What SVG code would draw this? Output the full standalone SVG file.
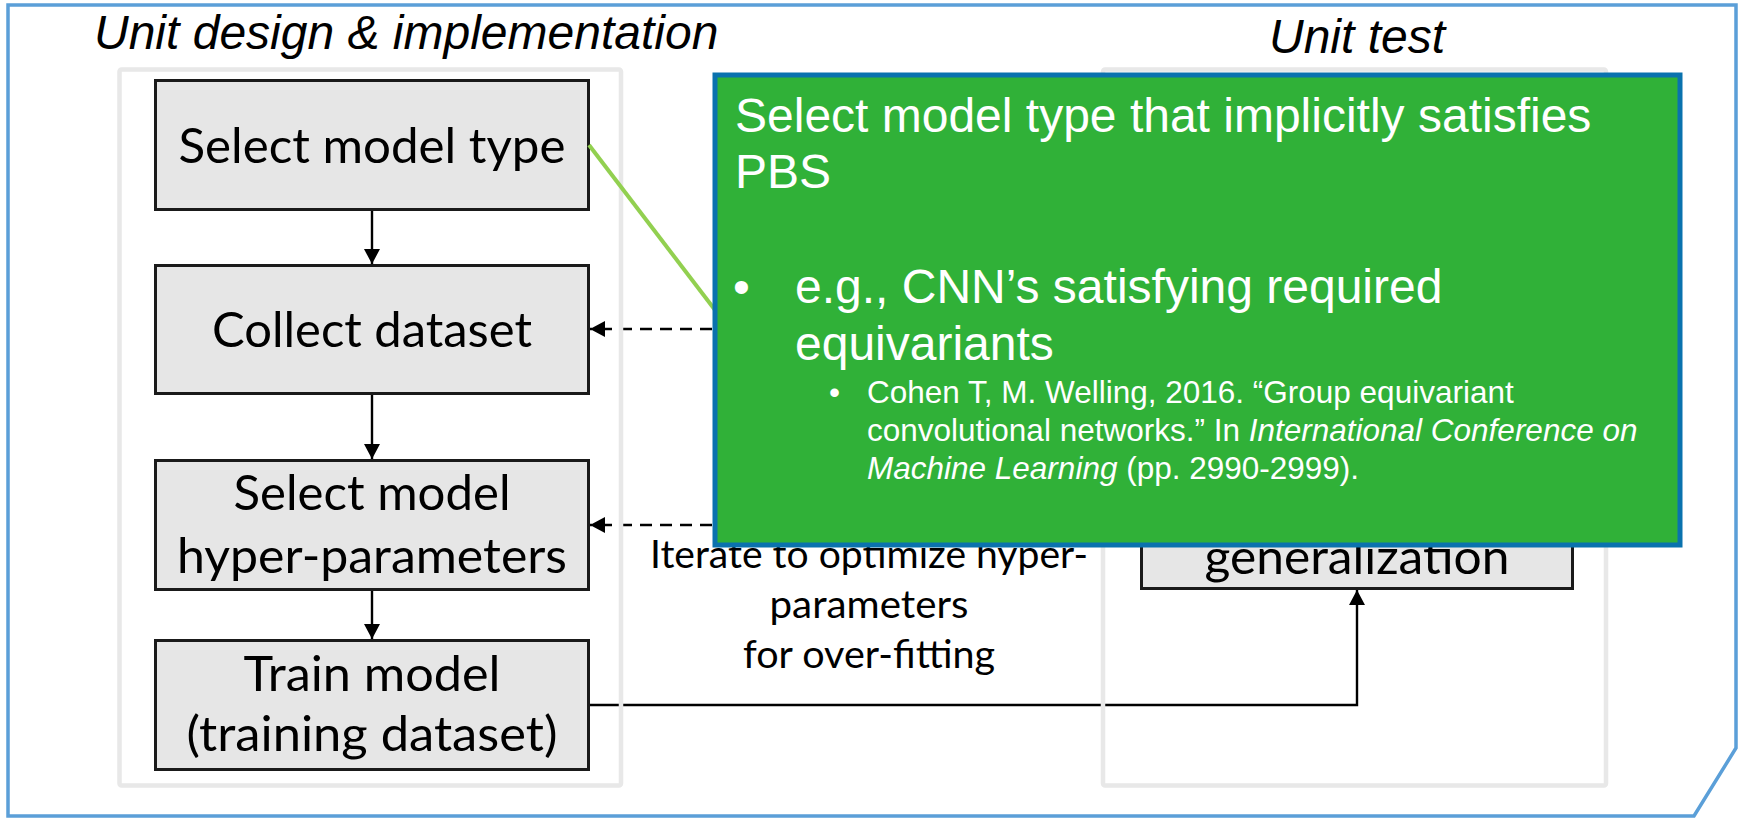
<svg xmlns="http://www.w3.org/2000/svg" width="1741" height="818" viewBox="0 0 1741 818">
  <style>
    .frame { fill: none; stroke: #5B9FD8; stroke-width: 3.5; }
    .lane { fill: none; stroke: #E8E8E8; stroke-width: 4.5; }
    .box { fill: #E6E6E6; stroke: #1A1A1A; stroke-width: 3; }
    .lbl { font-family: Lato, "Open Sans", sans-serif; font-size: 48px; fill: #000; text-anchor: middle; }
    .note { font-family: Lato, "Open Sans", sans-serif; font-size: 38px; fill: #000; text-anchor: middle; }
    .head { font-family: "Liberation Sans", Arial, sans-serif; font-style: italic; font-size: 48px; fill: #000; }
    .flow { fill: none; stroke: #000; stroke-width: 2.4; }
    .dash { stroke-dasharray: 12 8; }
    .link { fill: none; stroke: #92D050; stroke-width: 4; }
    .callout { fill: #30B138; stroke: #0A72AE; stroke-width: 5; }
    .ct { font-family: "Liberation Sans", Arial, sans-serif; font-size: 48px; fill: #fff; }
    .ref { font-size: 31.5px; }
  </style>
  <defs>
    <marker id="arrow" viewBox="0 0 15 16" refX="15" refY="8" markerWidth="15" markerHeight="16" markerUnits="userSpaceOnUse" orient="auto">
      <path d="M0,0 L15,8 L0,16 Z" fill="#000"/>
    </marker>
  </defs>

  <rect width="1741" height="818" fill="#fff"/>

  <!-- outer frame with clipped lower-right corner -->
  <polygon class="frame" points="8,5 1736,5 1736,748 1694,816 8,816"/>

  <!-- lane headings -->
  <text class="head" x="94" y="49">Unit design &amp; implementation</text>
  <text class="head" x="1269" y="53">Unit test</text>

  <!-- connectors -->
  <g id="connectors">
    <path class="flow" d="M372,211 V264" marker-end="url(#arrow)"/>
    <path class="flow" d="M372,395 V459" marker-end="url(#arrow)"/>
    <path class="flow" d="M372,591 V639" marker-end="url(#arrow)"/>
    <path class="flow dash" d="M712,329 H590" marker-end="url(#arrow)"/>
    <path class="flow dash" d="M712,525 H590" marker-end="url(#arrow)"/>
    <path class="flow" d="M590,705 H1357 V590" marker-end="url(#arrow)"/>
  </g>

  <!-- swimlane containers -->
  <g id="lane-design">
    <rect class="lane" x="119.5" y="69.5" width="501.5" height="716" rx="2"/>
  </g>
  <g id="lane-test">
    <rect class="lane" x="1103" y="69.5" width="503" height="716" rx="2"/>
  </g>

  <!-- process steps -->
  <g id="select-model-type">
    <rect class="box" x="155.5" y="80.5" width="433" height="129"/>
    <text class="lbl" x="372" y="163" textLength="387" lengthAdjust="spacingAndGlyphs">Select model type</text>
  </g>
  <g id="collect-dataset">
    <rect class="box" x="155.5" y="265.5" width="433" height="128"/>
    <text class="lbl" x="372" y="347" textLength="320" lengthAdjust="spacingAndGlyphs">Collect dataset</text>
  </g>
  <g id="select-hyperparameters">
    <rect class="box" x="155.5" y="460.5" width="433" height="129"/>
    <text class="lbl" x="372" y="510" textLength="277" lengthAdjust="spacingAndGlyphs">Select model</text>
    <text class="lbl" x="372" y="573" textLength="390" lengthAdjust="spacingAndGlyphs">hyper-parameters</text>
  </g>
  <g id="train-model">
    <rect class="box" x="155.5" y="640.5" width="433" height="129"/>
    <text class="lbl" x="372" y="691" textLength="257" lengthAdjust="spacingAndGlyphs">Train model</text>
    <text class="lbl" x="372" y="751" textLength="371" lengthAdjust="spacingAndGlyphs">(training dataset)</text>
  </g>
  <g id="generalization">
    <rect class="box" x="1141.5" y="460.5" width="431" height="128"/>
    <text class="lbl" x="1357" y="574" textLength="305" lengthAdjust="spacingAndGlyphs">generalization</text>
  </g>

  <!-- loop annotation -->
  <g id="iterate-note">
    <text class="note" x="869" y="568" textLength="438" lengthAdjust="spacingAndGlyphs">Iterate to optimize hyper-</text>
    <text class="note" x="869" y="618" textLength="199" lengthAdjust="spacingAndGlyphs">parameters</text>
    <text class="note" x="869" y="668" textLength="252" lengthAdjust="spacingAndGlyphs">for over-fitting</text>
  </g>

  <!-- callout -->
  <g id="callout">
    <line class="link" x1="589" y1="145" x2="715" y2="310"/>
    <rect class="callout" x="715" y="75" width="965" height="470"/>
    <text class="ct" x="735" y="132">Select model type that implicitly satisfies</text>
    <text class="ct" x="735" y="188">PBS</text>
    <text class="ct" x="733" y="303">•</text>
    <text class="ct" x="795" y="303">e.g., CNN’s satisfying required</text>
    <text class="ct" x="795" y="360">equivariants</text>
    <text class="ct ref" x="829" y="403">•</text>
    <text class="ct ref" x="867" y="403">Cohen T, M. Welling, 2016. “Group equivariant</text>
    <text class="ct ref" x="867" y="441">convolutional networks.” In <tspan font-style="italic">International Conference on</tspan></text>
    <text class="ct ref" x="867" y="479"><tspan font-style="italic">Machine Learning</tspan> (pp. 2990-2999).</text>
  </g>
</svg>
